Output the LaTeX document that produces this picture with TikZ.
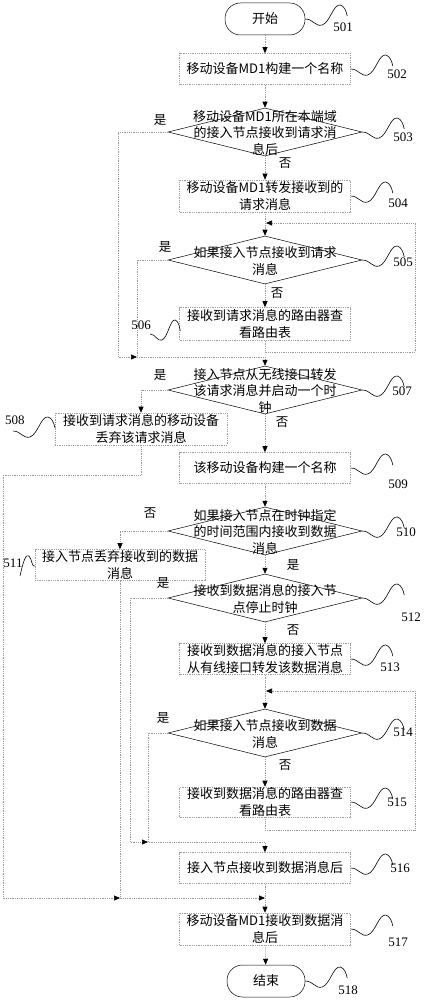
\documentclass[tikz,border=0pt]{standalone}
\usepackage{fontspec}
\setmainfont{Liberation Serif}
\newfontfamily\cjk{Noto Sans CJK SC}
\usetikzlibrary{arrows.meta,shapes.geometric,calc}
\newcommand\txtfont{\cjk\fontsize{13}{16.3}\selectfont}
\newcommand\wiggle[2][1]{\draw[wavy,shift={(#2)},xscale=#1] (0,0) .. controls (8,0) and (10,8) .. (17,6) .. controls (25,3) and (28,-15) .. (35,-14) .. controls (39,-13) and (41,-8) .. (42,-3);}
\tikzset{
  x=1pt,y=-1pt,
  proc/.style={draw=gray!75, dash pattern=on 0.9pt off 0.9pt, line width=0.6pt, minimum width=171pt, minimum height=31pt, inner sep=0pt, align=center, font=\txtfont},
  dec/.style={draw=black, line width=0.5pt, diamond, minimum width=194pt, minimum height=48pt, inner sep=0pt},
  dtext/.style={align=center, font=\txtfont, inner sep=0pt},
  term/.style={draw=black, line width=0.5pt, rounded corners=15.5pt, minimum width=80pt, minimum height=32pt, inner sep=0pt, font=\txtfont},
  flow/.style={draw=gray!80, line width=0.6pt, dash pattern=on 0.9pt off 0.9pt, -{Triangle[length=6pt,width=5pt,color=black]}},
  wavy/.style={draw=black, line width=0.6pt},
  num/.style={font=\fontsize{13}{14}\selectfont, inner sep=0pt},
  yn/.style={font=\cjk\fontsize{12.5}{14}\selectfont, inner sep=0pt}
}
\begin{document}
\begin{tikzpicture}
\useasboundingbox (0,0) rectangle (424,1000);
% nodes
\node[term] (t501) at (265,19) {开始};
\node[proc] (b502) at (265,69) {移动设备MD1构建一个名称};
\node[dec] (d503) at (265,132) {};
\node[dtext] (x503) at (265,133) {移动设备MD1所在本端域\\的接入节点接收到请求消\\息后};
\node[proc, minimum height=32pt] (b504) at (265,196) {移动设备MD1转发接收到的\\请求消息};
\node[dec] (d505) at (265,260) {};
\node[dtext] (x505) at (265,261) {如果接入节点接收到请求\\消息};
\node[proc, minimum height=33pt] (b506) at (265,324) {接收到请求消息的路由器查\\看路由表};
\node[dec] (d507) at (265,390) {};
\node[dtext] (x507) at (265,391) {接入节点从无线接口转发\\该请求消息并启动一个时\\钟};
\node[proc, minimum width=172pt, minimum height=32pt] (b508) at (141,429) {接收到请求消息的移动设备\\丢弃该请求消息};
\node[proc] (b509) at (265,468) {该移动设备构建一个名称};
\node[dec] (d510) at (265,531) {};
\node[dtext] (x510) at (265,532) {如果接入节点在时钟指定\\的时间范围内接收到数据\\消息};
\node[proc, minimum width=170pt] (b511) at (120,565) {接入节点丢弃接收到的数据\\消息};
\node[dec] (d512) at (265,598) {};
\node[dtext] (x512) at (265,599) {接收到数据消息的接入节\\点停止时钟};
\node[proc] (b513) at (265,659) {接收到数据消息的接入节点\\从有线接口转发该数据消息};
\node[dec] (d514) at (265,733) {};
\node[dtext] (x514) at (265,734) {如果接入节点接收到数据\\消息};
\node[proc, minimum height=30pt] (b515) at (265,802) {接收到数据消息的路由器查\\看路由表};
\node[proc] (b516) at (265,868) {接入节点接收到数据消息后};
\node[proc, minimum height=32pt] (b517) at (265,929) {移动设备MD1接收到数据消\\息后};
\node[term, minimum width=78pt] (t518) at (266,981) {结束};
% junction coordinates
\coordinate (j1) at (137,357);
\coordinate (j1m) at (265,357);
\coordinate (j2) at (148,842);
\coordinate (j2m) at (265,842);
\coordinate (j3) at (120,898);
\coordinate (m517) at (265,898);
\coordinate (m505) at (266,223);
\coordinate (m514) at (266,691);
% main flow
\draw[flow] (t501) -- (b502);
\draw[flow] (b502) -- (d503);
\draw[flow] (d503) -- (b504);
\draw[flow] (b504) -- (d505);
\draw[flow] (d505) -- (b506);
\draw[flow] (b506.south) |- (415,352) |- (m505);
\draw[flow] (d503.west) -| (118,357) -- (j1);
\draw[flow] (d505.west) -| (j1) -- (j1m) -- (d507.north);
\draw[flow] (d507) -- (b509);
\draw[flow] (d507.west) -| (b508.north);
\draw[flow] (b508.south) -- ++(0,30) -| (3,898) -- (j3);
\draw[flow] (b511.south) |- (m517);
\draw[flow] (b509) -- (d510);
\draw[flow] (d510.west) -| (b511.north);
\draw[flow] (d510) -- (d512);
\draw[flow] (d512.west) -| (130,842) -- (j2);
\draw[flow] (d512) -- (b513);
\draw[flow] (b513) -- (d514);
\draw[flow] (d514) -- (b515);
\draw[flow] (b515.south) |- (415,830) |- (m514);
\draw[flow] (d514.west) -| (j2) -- (j2m) -- (b516.north);
\draw[flow] (b516) -- (b517);
\draw[flow] (b517) -- (t518);
% yes/no labels
\node[yn] at (285,163) {否};
\node[yn] at (160,120) {是};
\node[yn] at (165,247) {是};
\node[yn] at (277,293) {否};
\node[yn] at (160,375) {是};
\node[yn] at (282,422) {否};
\node[yn] at (150,513) {否};
\node[yn] at (293,565) {是};
\node[yn] at (163,583) {是};
\node[yn] at (293,630) {否};
\node[yn] at (163,718) {是};
\node[yn] at (285,765) {否};
% number labels with wiggles
\wiggle{t501.east}
\node[num] (n501) at (343,27) {501};
\wiggle{b502.east}
\node[num] (n502) at (397,74) {502};
\wiggle{d503.east}
\node[num] (n503) at (403,137) {503};
\wiggle{b504.east}
\node[num] (n504) at (398,203) {504};
\wiggle{d505.east}
\node[num] (n505) at (403,262) {505};
\wiggle[0.72]{150,334}
\node[num] (n506) at (141,325) {506};
\wiggle{d507.east}
\node[num] (n507) at (402,391) {507};
\wiggle{13,431}
\node[num] (n508) at (15,420) {508};
\wiggle{b509.east}
\node[num] (n509) at (398,484) {509};
\wiggle{d510.east}
\node[num] (n510) at (406,532) {510};
\draw[wavy] (20,576) .. controls (23,562) and (26,553) .. (29,556) .. controls (32,559) and (32,568) .. (35,566);
\node[num] (n511) at (13,563) {511};
\wiggle{d512.east}
\node[num] (n512) at (411,617) {512};
\wiggle{b513.east}
\node[num] (n513) at (390,667) {513};
\wiggle{d514.east}
\node[num] (n514) at (403,732) {514};
\wiggle{b515.east}
\node[num] (n515) at (397,802) {515};
\wiggle{b516.east}
\node[num] (n516) at (400,868) {516};
\wiggle{b517.east}
\node[num] (n517) at (398,942) {517};
\wiggle{t518.east}
\node[num] (n518) at (348,990) {518};
\end{tikzpicture}
\end{document}
